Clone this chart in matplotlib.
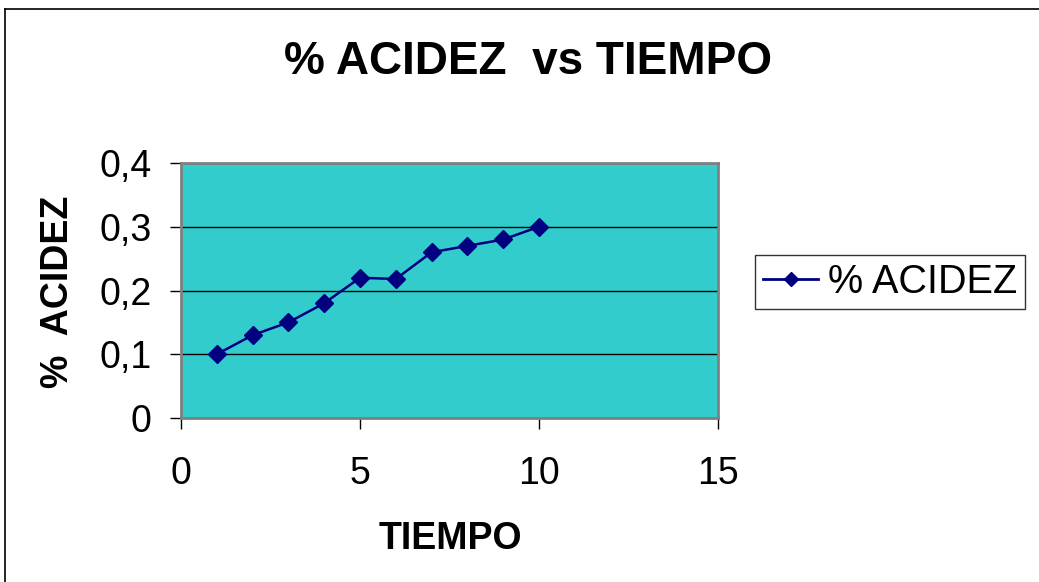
import numpy as np
import matplotlib.pyplot as plt
from matplotlib.ticker import FuncFormatter, MultipleLocator
from matplotlib.lines import Line2D

plt.rcParams['font.family'] = ['Liberation Sans', 'DejaVu Sans']

tiempo = [1, 2, 3, 4, 5, 6, 7, 8, 9, 10]
acidez = [0.10, 0.13, 0.15, 0.18, 0.22, 0.218, 0.26, 0.27, 0.28, 0.30]

W, H = 1039, 582
fig = plt.figure(figsize=(W / 100, H / 100), dpi=100)

# outer chart frame (only left and top edges are visible)
fig.add_artist(Line2D([5/W, 5/W], [0, 1 - 9/H], color='black', lw=1.2))
fig.add_artist(Line2D([5/W, 1], [1 - 9/H, 1 - 9/H], color='black', lw=1.2))

ax = fig.add_axes([181/W, 164/H, 537/W, 255/H])
ax.set_facecolor('#33CCCC')
ax.set_xlim(0, 15)
ax.set_ylim(0, 0.4)
ax.xaxis.set_major_locator(MultipleLocator(5))
ax.yaxis.set_major_locator(MultipleLocator(0.1))
ax.yaxis.set_major_formatter(FuncFormatter(lambda v, p: '0' if abs(v) < 1e-9 else f'{v:.1f}'.replace('.', ',')))
ax.grid(axis='y', color='black', lw=1)
ax.set_axisbelow(True)
for s in ax.spines.values():
    s.set_color('#808080')
    s.set_linewidth(2)
ax.tick_params(direction='out', length=8, width=1, color='black', labelsize=27)
ax.tick_params(axis='x', pad=19)
ax.tick_params(axis='y', pad=13)

ax.plot(tiempo, acidez, color='#000080', lw=1.8, marker='D', markersize=9, label='% ACIDEZ')

fig.text(450/W, 1 - 539/H, 'TIEMPO', ha='center', va='center', fontsize=27, fontweight='bold')
fig.text(58/W, 1 - 292/H, '%  ACIDEZ', ha='center', va='center', rotation=90,
         fontsize=27, fontweight='bold')
fig.text(528/W, 1 - 62/H, '% ACIDEZ  vs TIEMPO', ha='center', va='center',
         fontsize=33, fontweight='bold')

leg = ax.legend(loc='upper left', bbox_to_anchor=(755/W, 1 - 255/H), bbox_transform=fig.transFigure,
                fontsize=28.5, frameon=True, fancybox=False, edgecolor='black',
                handlelength=1.4, borderpad=0.2, borderaxespad=0, handletextpad=0.25,
                markerscale=0.8)
leg.get_frame().set_linewidth(1)
for h in leg.get_lines():
    h.set_linewidth(2)

fig.savefig('out.png', dpi=100)
